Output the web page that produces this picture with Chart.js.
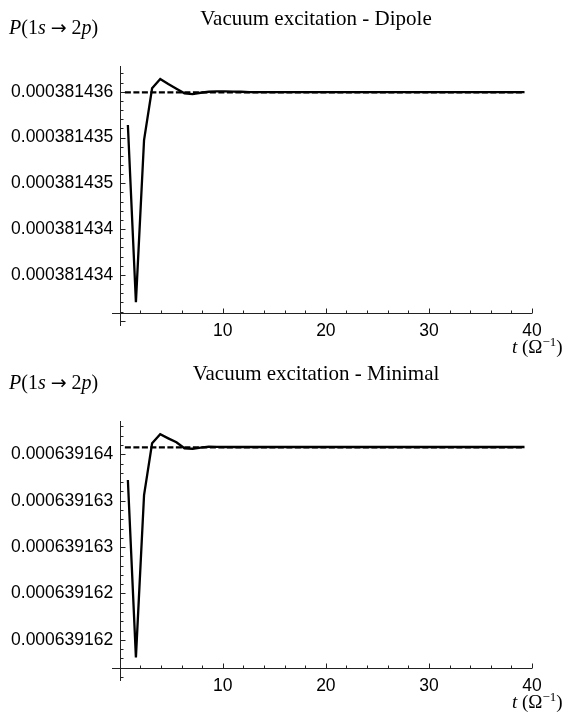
<!DOCTYPE html>
<html>
<head>
<meta charset="utf-8">
<script src="https://cdn.jsdelivr.net/npm/chart.js@4"></script>
<style>
  html, body { margin: 0; padding: 0; background: #fff; }
  body { width: 586px; height: 713px; position: relative; overflow: hidden; }
  canvas { position: absolute; left: 0; }
  #dipoleChart { top: 0; }
  #minimalChart { top: 355px; }
</style>
</head>
<body>
<canvas id="dipoleChart" width="586" height="358"></canvas>
<canvas id="minimalChart" width="586" height="358"></canvas>
<script>
// tiempos de muestreo (Omega^-1)
const tValues = [
  0.79, 1.57, 2.36, 3.14, 3.93, 4.71, 5.50, 6.28, 7.07, 7.85,
  8.64, 9.42, 10.21, 11.00, 11.78, 12.57, 13.35, 14.14, 14.92, 15.71,
  16.49, 17.28, 18.06, 18.85, 19.63, 20.42, 21.21, 21.99, 22.78, 23.56,
  24.35, 25.13, 25.92, 26.70, 27.49, 28.27, 29.06, 29.85, 30.63, 31.42,
  32.20, 32.99, 33.77, 34.56, 35.34, 36.13, 36.91, 37.70, 38.48, 39.27
];

// P(1s -> 2p), acoplamiento dipolar
const pDipole = [
  0.000381435637, 0.000381433701, 0.000381435473, 0.000381436037, 0.000381436139,
  0.000381436084, 0.000381436033, 0.000381435983, 0.000381435975, 0.000381435989,
  0.000381436000, 0.000381436003, 0.000381436003, 0.000381436002, 0.000381436000,
  0.000381435996, 0.000381435996, 0.000381435996, 0.000381435996, 0.000381435996,
  0.000381435996, 0.000381435996, 0.000381435996, 0.000381435996, 0.000381435996,
  0.000381435996, 0.000381435996, 0.000381435996, 0.000381435996, 0.000381435996,
  0.000381435996, 0.000381435996, 0.000381435996, 0.000381435996, 0.000381435996,
  0.000381435996, 0.000381435996, 0.000381435996, 0.000381435996, 0.000381435996,
  0.000381435996, 0.000381435996, 0.000381435996, 0.000381435996, 0.000381435996,
  0.000381435996, 0.000381435996, 0.000381435996, 0.000381435996, 0.000381435996
];

// P(1s -> 2p), acoplamiento minimo
const pMinimal = [
  0.000639163723, 0.000639161812, 0.000639163561, 0.000639164119, 0.000639164216,
  0.000639164172, 0.000639164129, 0.000639164065, 0.000639164060, 0.000639164071,
  0.000639164082, 0.000639164080, 0.000639164079, 0.000639164079, 0.000639164079,
  0.000639164079, 0.000639164079, 0.000639164079, 0.000639164079, 0.000639164079,
  0.000639164079, 0.000639164079, 0.000639164079, 0.000639164079, 0.000639164079,
  0.000639164079, 0.000639164079, 0.000639164079, 0.000639164079, 0.000639164079,
  0.000639164079, 0.000639164079, 0.000639164079, 0.000639164079, 0.000639164079,
  0.000639164079, 0.000639164079, 0.000639164079, 0.000639164079, 0.000639164079,
  0.000639164079, 0.000639164079, 0.000639164079, 0.000639164079, 0.000639164079,
  0.000639164079, 0.000639164079, 0.000639164079, 0.000639164079, 0.000639164079
];

// valores asintoticos (linea discontinua)
const dipoleLimit = [0.000381435993, 0.000381435993];
const minimalLimit = [0.000639164075, 0.000639164075];
const limitT = [0.5, 39.27];

// marcas del eje y
const dipoleTicks = [0.0003814340, 0.0003814345, 0.0003814350, 0.0003814355, 0.0003814360];
const dipoleTickLabels = ['0.000381434', '0.000381434', '0.000381435', '0.000381435', '0.000381436'];
const minimalTicks = [0.0006391620, 0.0006391625, 0.0006391630, 0.0006391635, 0.0006391640];
const minimalTickLabels = ['0.000639162', '0.000639162', '0.000639163', '0.000639163', '0.000639164'];

// marcas del eje x
const xMajorTicks = [10, 20, 30, 40];
const xTickLabels = ['10', '20', '30', '40'];
const xMinorTicks = [2, 4, 6, 8, 12, 14, 16, 18, 22, 24, 26, 28, 32, 34, 36, 38];

const AXIS_COLOR = '#222';
const SERIF = '"Liberation Serif", "DejaVu Serif", serif';
const SANS = '"Liberation Sans", Arial, sans-serif';

// dibuja texto con trozos de distinta fuente, de izquierda a derecha
function drawRich(ctx, parts, x, y) {
    let cx = x;
    parts.forEach(p => {
        ctx.font = p.font;
        ctx.fillText(p.text, cx, y - (p.dy || 0));
        cx += ctx.measureText(p.text).width + (p.gap || 0);
    });
    return cx - x;
}

const axesPlugin = {
    id: 'mmaAxes',
    beforeDatasetsDraw(chart, args, opts) {
        const { ctx, chartArea } = chart;
        const xs = chart.scales.x, ys = chart.scales.y;
        const x0 = Math.round(xs.getPixelForValue(0)) + 0.5;
        const yc = Math.round(ys.getPixelForValue(opts.crossAt)) + 0.5;

        ctx.save();
        ctx.strokeStyle = AXIS_COLOR;
        ctx.lineWidth = 1;
        ctx.beginPath();
        ctx.moveTo(x0, chartArea.top);
        ctx.lineTo(x0, chartArea.bottom);
        ctx.moveTo(chartArea.left, yc);
        ctx.lineTo(chartArea.right, yc);

        // marcas menores y mayores del eje y (paso 1e-10)
        const base = opts.ticks[0];
        for (let i = -40; i <= 40; i++) {
            const v = base + i * 1e-10;
            if (v < ys.min || v > ys.max) continue;
            const py = Math.round(ys.getPixelForValue(v)) + 0.5;
            const len = (i % 5 === 0) ? 5 : 3;
            ctx.moveTo(x0, py);
            ctx.lineTo(x0 + len, py);
        }

        xMinorTicks.forEach(t => {
            const px = Math.round(xs.getPixelForValue(t)) + 0.5;
            ctx.moveTo(px, yc);
            ctx.lineTo(px, yc - 3);
        });
        xMajorTicks.forEach(t => {
            const px = Math.round(xs.getPixelForValue(t)) + 0.5;
            ctx.moveTo(px, yc);
            ctx.lineTo(px, yc - 5);
        });
        ctx.stroke();
        ctx.restore();
    },
    afterDraw(chart, args, opts) {
        const { ctx } = chart;
        const xs = chart.scales.x, ys = chart.scales.y;
        const x0 = xs.getPixelForValue(0);
        const yc = ys.getPixelForValue(opts.crossAt);

        ctx.save();
        ctx.fillStyle = '#000';

        // etiquetas del eje y
        ctx.font = '17.5px ' + SANS;
        ctx.textAlign = 'right';
        ctx.textBaseline = 'middle';
        opts.ticks.forEach((v, i) => {
            ctx.fillText(opts.tickLabels[i], x0 - 6.5, ys.getPixelForValue(v));
        });

        // etiquetas del eje x
        ctx.textAlign = 'center';
        ctx.textBaseline = 'alphabetic';
        xMajorTicks.forEach((t, i) => {
            ctx.fillText(xTickLabels[i], xs.getPixelForValue(t), yc + 23);
        });

        // titulo
        ctx.font = '21px ' + SERIF;
        ctx.textAlign = 'center';
        ctx.fillText(opts.title, 316, 25);

        // rotulos de ejes
        ctx.textAlign = 'left';
        const it = 'italic 20px ' + SERIF, rm = '20px ' + SERIF;
        drawRich(ctx, [
            { text: 'P', font: it }, { text: '(1', font: rm }, { text: 's', font: it, gap: 5 },
            { text: '\u2192', font: '19px "DejaVu Sans", sans-serif', gap: 5 },
            { text: '2', font: rm }, { text: 'p', font: it }, { text: ')', font: rm }
        ], 9, 34);

        const it2 = 'italic 19px ' + SERIF, rm2 = '19px ' + SERIF, sup = '13px ' + SERIF;
        drawRich(ctx, [
            { text: 't', font: it2 }, { text: ' (\u03A9', font: rm2 },
            { text: '\u22121', font: sup, dy: 7 }, { text: ')', font: rm2 }
        ], 512, yc + 39.5);
        ctx.restore();
    }
};

function makeChart(canvasId, panel) {
    const points = tValues.map((t, i) => ({ x: t, y: panel.values[i] }));
    const limitPoints = limitT.map((t, i) => ({ x: t, y: panel.limit[i] }));

    return new Chart(document.getElementById(canvasId), {
        type: 'line',
        data: {
            datasets: [
                {
                    data: points,
                    borderColor: '#000',
                    borderWidth: 2.3,
                    pointRadius: 0,
                    tension: 0,
                    fill: false,
                    order: 0
                },
                {
                    data: limitPoints,
                    borderColor: '#000',
                    borderWidth: 2.2,
                    borderDash: [6, 2.5],
                    pointRadius: 0,
                    fill: false,
                    order: 1
                }
            ]
        },
        options: {
            responsive: false,
            animation: false,
            devicePixelRatio: 1,
            layout: { padding: { left: 112, right: 54, top: 66, bottom: 32 } },
            plugins: {
                legend: { display: false },
                tooltip: { enabled: false },
                mmaAxes: {
                    crossAt: panel.crossAt,
                    ticks: panel.ticks,
                    tickLabels: panel.tickLabels,
                    title: panel.title
                }
            },
            scales: {
                x: { type: 'linear', min: -0.75, max: 40, display: false },
                y: { type: 'linear', min: panel.yMin, max: panel.yMax, display: false }
            }
        },
        plugins: [axesPlugin]
    });
}

makeChart('dipoleChart', {
    title: 'Vacuum excitation - Dipole',
    values: pDipole,
    limit: dipoleLimit,
    ticks: dipoleTicks,
    tickLabels: dipoleTickLabels,
    yMin: 0.000381433442,
    yMax: 0.000381436281,
    crossAt: 0.000381433581
});

makeChart('minimalChart', {
    title: 'Vacuum excitation - Minimal',
    values: pMinimal,
    limit: minimalLimit,
    ticks: minimalTicks,
    tickLabels: minimalTickLabels,
    yMin: 0.000639161557,
    yMax: 0.000639164359,
    crossAt: 0.000639161694
});
</script>
</body>
</html>
